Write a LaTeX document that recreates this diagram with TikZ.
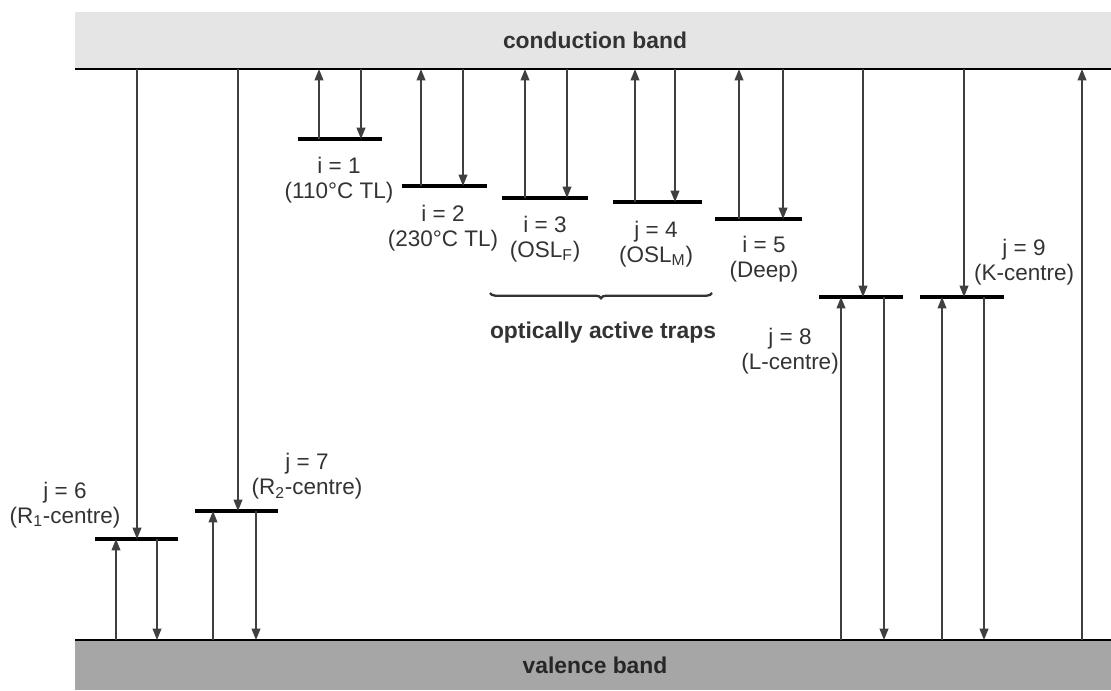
\documentclass[tikz,border=0pt]{standalone}
\usepackage{fontspec}
\setmainfont{Liberation Sans}
\usetikzlibrary{arrows.meta,decorations.pathreplacing}

\tikzset{
  lvl/.style={line width=1.8pt, black},
  trans/.style={draw=black!75, line width=0.9pt, -{Triangle[length=6.5pt,width=5pt]}},
  lab/.style={font=\fontsize{12.8}{14.2}\selectfont, text=black!80, inner sep=0pt, align=center},
  bandtext/.style={font=\fontsize{13}{15}\selectfont\bfseries, inner sep=0pt},
}

\begin{document}
\begin{tikzpicture}[x=0.02cm,y=-0.02cm]
  \useasboundingbox (0,0) rectangle (1111,690);

  % bands
  \fill[black!10] (75,12) rectangle (1111,69);
  \fill[black!35] (75,640) rectangle (1111,690);
  \coordinate (CB) at (75,69);
  \coordinate (CBr) at (1111,69);
  \coordinate (VB) at (75,640);
  \coordinate (VBr) at (1111,640);
  \draw[line width=1.4pt] (CB) -- (CBr);
  \draw[line width=1.4pt] (VB) -- (VBr);
  \node[bandtext, text=black!80] (cbtext) at (595,40) {conduction band};
  \node[bandtext, text=black!85] (vbtext) at (595,665) {valence band};

  % i = 1
  \coordinate (T1l) at (298,139);
  \coordinate (T1r) at (382,139);
  \coordinate (T1u) at (319,139);
  \coordinate (T1d) at (361,139);
  \draw[lvl] (T1l) -- (T1r);
  \draw[trans] (T1u) -- (T1u |- CB);
  \draw[trans] (T1d |- CB) -- (T1d);
  \node[lab] (T1lab) at (339,180) {i = 1\\(110°C TL)};

  % i = 2
  \coordinate (T2l) at (402,186);
  \coordinate (T2r) at (487,186);
  \coordinate (T2u) at (421,186);
  \coordinate (T2d) at (463,186);
  \draw[lvl] (T2l) -- (T2r);
  \draw[trans] (T2u) -- (T2u |- CB);
  \draw[trans] (T2d |- CB) -- (T2d);
  \node[lab] (T2lab) at (443,228) {i = 2\\(230°C TL)};

  % i = 3
  \coordinate (T3l) at (502,198);
  \coordinate (T3r) at (588,198);
  \coordinate (T3u) at (525,198);
  \coordinate (T3d) at (567,198);
  \draw[lvl] (T3l) -- (T3r);
  \draw[trans] (T3u) -- (T3u |- CB);
  \draw[trans] (T3d |- CB) -- (T3d);
  \node[lab] (T3lab) at (545,239) {i = 3\\(OSL\textsubscript{F})};

  % i = 4
  \coordinate (T4l) at (613,202);
  \coordinate (T4r) at (702,202);
  \coordinate (T4u) at (635,202);
  \coordinate (T4d) at (675,202);
  \draw[lvl] (T4l) -- (T4r);
  \draw[trans] (T4u) -- (T4u |- CB);
  \draw[trans] (T4d |- CB) -- (T4d);
  \node[lab] (T4lab) at (656,244) {j = 4\\(OSL\textsubscript{M})};

  % i = 5
  \coordinate (T5l) at (715,219);
  \coordinate (T5r) at (802,219);
  \coordinate (T5u) at (739,219);
  \coordinate (T5d) at (783,219);
  \draw[lvl] (T5l) -- (T5r);
  \draw[trans] (T5u) -- (T5u |- CB);
  \draw[trans] (T5d |- CB) -- (T5d);
  \node[lab] (T5lab) at (764,259) {i = 5\\(Deep)};

  % optically active traps
  \coordinate (OAl) at (490,293);
  \coordinate (OAr) at (712,293);
  \draw[black!80, line width=1.3pt, decorate, decoration={brace, mirror, amplitude=3pt}] (OAl) -- (OAr);
  \node[bandtext, text=black!80] (OAlab) at (603,333) {optically active traps};

  % j = 6 (R1-centre)
  \coordinate (R6l) at (95,539);
  \coordinate (R6r) at (178,539);
  \coordinate (R6c) at (137,539);
  \coordinate (R6u) at (116,539);
  \coordinate (R6d) at (157,539);
  \draw[lvl] (R6l) -- (R6r);
  \draw[trans] (R6c |- CB) -- (R6c);
  \draw[trans] (R6u |- VB) -- (R6u);
  \draw[trans] (R6d) -- (R6d |- VB);
  \node[lab] (R6lab) at (65,505) {j = 6\\(R\textsubscript{1}-centre)};

  % j = 7 (R2-centre)
  \coordinate (R7l) at (195,511);
  \coordinate (R7r) at (278,511);
  \coordinate (R7c) at (238,511);
  \coordinate (R7u) at (213,511);
  \coordinate (R7d) at (256,511);
  \draw[lvl] (R7l) -- (R7r);
  \draw[trans] (R7c |- CB) -- (R7c);
  \draw[trans] (R7u |- VB) -- (R7u);
  \draw[trans] (R7d) -- (R7d |- VB);
  \node[lab] (R7lab) at (307,476) {j = 7\\(R\textsubscript{2}-centre)};

  % j = 8 (L-centre)
  \coordinate (L8l) at (819,297);
  \coordinate (L8r) at (903,297);
  \coordinate (L8c) at (863,297);
  \coordinate (L8u) at (841,297);
  \coordinate (L8d) at (884,297);
  \draw[lvl] (L8l) -- (L8r);
  \draw[trans] (L8c |- CB) -- (L8c);
  \draw[trans] (L8u |- VB) -- (L8u);
  \draw[trans] (L8d) -- (L8d |- VB);
  \node[lab] (L8lab) at (790,351) {j = 8\\(L-centre)};

  % j = 9 (K-centre)
  \coordinate (K9l) at (920,297);
  \coordinate (K9r) at (1004,297);
  \coordinate (K9c) at (964,297);
  \coordinate (K9u) at (942,297);
  \coordinate (K9d) at (984,297);
  \draw[lvl] (K9l) -- (K9r);
  \draw[trans] (K9c |- CB) -- (K9c);
  \draw[trans] (K9u |- VB) -- (K9u);
  \draw[trans] (K9d) -- (K9d |- VB);
  \node[lab] (K9lab) at (1024,262) {j = 9\\(K-centre)};

  % valence to conduction band
  \coordinate (VC) at (1082,640);
  \draw[trans] (VC) -- (VC |- CB);
\end{tikzpicture}
\end{document}
